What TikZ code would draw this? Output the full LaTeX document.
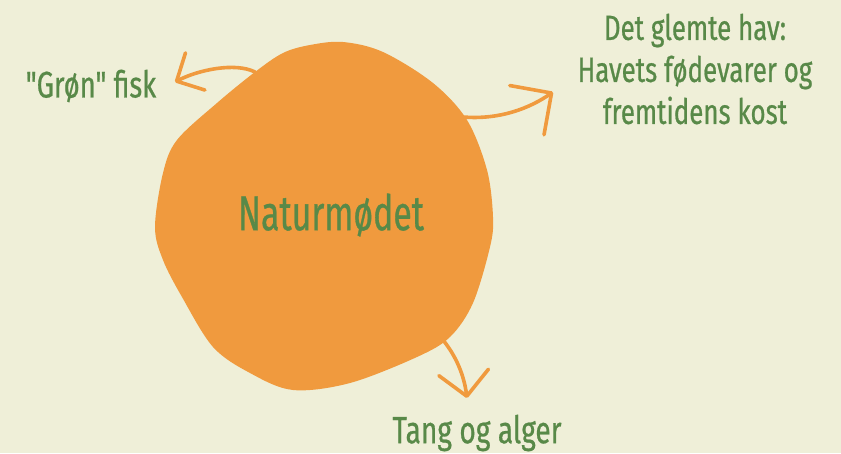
\documentclass[tikz,border=0pt]{standalone}
\usepackage{fontspec}
\setmainfont{Fira Sans}
\newfontfamily\dinfont{Fira Sans}[FakeStretch=0.74, FakeBold=0.6]
\newfontfamily\dinnarrow{Fira Sans}[FakeStretch=0.69, FakeBold=0.6]
\usepackage{tikz}
\usetikzlibrary{positioning, arrows.meta}

\definecolor{bgcream}{RGB}{239,239,216}
\definecolor{blobor}{RGB}{240,154,62}
\definecolor{leafgr}{RGB}{88,137,72}

\begin{document}
\begin{tikzpicture}[x=1pt,y=-1pt,
  pil/.style={draw=blobor, line width=3.6pt, line cap=round,
    -{Straight Barb[length=24pt, width=50pt, round]}},
  label/.style={text=leafgr, font=\dinfont\fontsize{36}{42}\selectfont, inner sep=0pt, align=center}]
% background
\fill[bgcream] (0,0) rectangle (841,453);
\useasboundingbox (0,0) rectangle (841,453);

% blob
\fill[blobor] plot[smooth cycle, tension=0.55] coordinates {
  (343,42) (383,52) (433,83) (467,120) (487,170) (493,217) (490,247)
  (473,303) (450,337) (417,357) (350,383) (293,390) (250,373) (213,347)
  (182,297) (163,260) (155,227) (163,173) (177,140) (217,103) (255,72)
  (283,53) (310,45)};

% texts
\node[label, font=\dinnarrow\fontsize{49}{50}\selectfont] (naturmodet) at (331,215) {Naturmødet};
\node[label, font=\dinfont\fontsize{37}{42}\selectfont] (fisk) at (91,86) {"Grøn" fisk};
\node[label, font=\dinfont\fontsize{35}{42}\selectfont] (hav) at (695,69) {Det glemte hav:\\Havets fødevarer og\\fremtidens kost};
\node[label, font=\dinfont\fontsize{38}{40}\selectfont] (tang) at (477,433) {Tang og alger};

% arrows
\coordinate (s1) at (255,72);
\coordinate (t1) at (175,82);
\coordinate (s2) at (463,117);
\coordinate (t2) at (553,92);
\coordinate (s3) at (443,340);
\coordinate (t3) at (467,398);
\draw[pil, -{Straight Barb[length=21pt, width=42pt, round]}] (s1) .. controls (235,62) and (198,70) .. (t1);
\draw[pil, -{Straight Barb[length=30pt, width=60pt, round]}] (s2) .. controls (500,120) and (530,108) .. (t2);
\draw[pil] (s3) .. controls (456,356) and (464,375) .. (t3);
\end{tikzpicture}
\end{document}
